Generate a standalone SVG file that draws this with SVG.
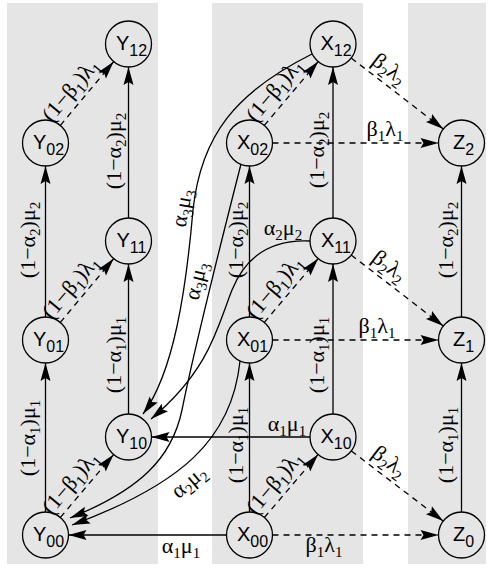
<svg xmlns="http://www.w3.org/2000/svg" width="489" height="569" viewBox="0 0 489 569">
<defs>
<style>
.bg{fill:#e5e5e5}
.n circle{fill:none;stroke:#000;stroke-width:1.3}
.n text{font-family:"Liberation Sans",Arial,sans-serif;font-size:20px;fill:#000}
.n .s{font-size:16px}
.e{fill:none;stroke:#000;stroke-width:1.3;marker-end:url(#ah)}
.d{stroke-dasharray:6 5}
.l{font-family:"Liberation Serif","Times New Roman",serif;font-size:22px;fill:#000}
.l .s{font-size:15px}
</style>
<marker id="ah" markerUnits="userSpaceOnUse" viewBox="-19 -6 20 12" refX="0" refY="0" markerWidth="20" markerHeight="12" orient="auto">
<path d="M0,0 L-18,-5 L-15,0 L-18,5 Z" fill="#000"/>
</marker>
</defs>

<g id="bands">
<rect class="bg" x="7" y="3" width="151" height="561"/>
<rect class="bg" x="212" y="3" width="151" height="561"/>
<rect class="bg" x="408" y="3" width="78" height="561"/>
</g>

<g id="connectors">
<line class="e" x1="45.5" y1="512" x2="45.5" y2="363"/>
<line class="e" x1="45.5" y1="317" x2="45.5" y2="166"/>
<line class="e" x1="128.5" y1="414" x2="128.5" y2="264"/>
<line class="e" x1="128.5" y1="218" x2="128.5" y2="67"/>
<line class="e" x1="249.5" y1="512" x2="249.5" y2="363"/>
<line class="e" x1="249.5" y1="317" x2="249.5" y2="166"/>
<line class="e" x1="333" y1="414" x2="333" y2="264"/>
<line class="e" x1="333" y1="218" x2="333" y2="67"/>
<line class="e" x1="461.5" y1="512" x2="461.5" y2="363"/>
<line class="e" x1="461.5" y1="317" x2="461.5" y2="166"/>
<line class="e d" x1="60.4" y1="517.4" x2="113.6" y2="454.6"/>
<line class="e d" x1="60.3" y1="322.4" x2="113.7" y2="258.6"/>
<line class="e d" x1="60.3" y1="125.4" x2="113.7" y2="61.6"/>
<line class="e d" x1="264.4" y1="517.5" x2="318.1" y2="454.5"/>
<line class="e d" x1="264.3" y1="322.4" x2="318.2" y2="258.6"/>
<line class="e d" x1="264.3" y1="125.4" x2="318.2" y2="61.6"/>
<line class="e d" x1="272.5" y1="535" x2="438.5" y2="535"/>
<line class="e d" x1="272.5" y1="340" x2="438.5" y2="340"/>
<line class="e d" x1="272.5" y1="143" x2="438.5" y2="143"/>
<line class="e d" x1="351.3" y1="450.9" x2="443.2" y2="521.1"/>
<line class="e d" x1="351.2" y1="255" x2="443.3" y2="326"/>
<line class="e d" x1="351.2" y1="58" x2="443.3" y2="129"/>
<line class="e" x1="310" y1="437" x2="151.5" y2="437"/>
<line class="e" x1="226.5" y1="535" x2="68.5" y2="535"/>
<path class="e" d="M312,54 C236,92 201,135 193,210 C186,290 174,372 143,414"/>
<path class="e" d="M241,164 C228,215 195,345 182,410 C172,458 140,490 70,518"/>
<path class="e" d="M310,241 C270,239 245,258 232,290 C218,325 210,370 151,419"/>
<path class="e" d="M240,361 C232,440 180,485 72,525"/>

<g id="labels" class="l">
<text transform="translate(34.5,438) rotate(-90)" text-anchor="middle">(1−α<tspan class="s" dy="5">1</tspan><tspan dy="-5">)μ</tspan><tspan class="s" dy="5">1</tspan></text>
<text transform="translate(34.5,240) rotate(-90)" text-anchor="middle">(1−α<tspan class="s" dy="5">2</tspan><tspan dy="-5">)μ</tspan><tspan class="s" dy="5">2</tspan></text>
<text transform="translate(120.5,355) rotate(-90)" text-anchor="middle">(1−α<tspan class="s" dy="5">1</tspan><tspan dy="-5">)μ</tspan><tspan class="s" dy="5">1</tspan></text>
<text transform="translate(120.5,151) rotate(-90)" text-anchor="middle">(1−α<tspan class="s" dy="5">2</tspan><tspan dy="-5">)μ</tspan><tspan class="s" dy="5">2</tspan></text>
<text transform="translate(242.5,445) rotate(-90)" text-anchor="middle">(1−α<tspan class="s" dy="5">1</tspan><tspan dy="-5">)μ</tspan><tspan class="s" dy="5">1</tspan></text>
<text transform="translate(242.5,240) rotate(-90)" text-anchor="middle">(1−α<tspan class="s" dy="5">2</tspan><tspan dy="-5">)μ</tspan><tspan class="s" dy="5">2</tspan></text>
<text transform="translate(323.5,355) rotate(-90)" text-anchor="middle">(1−α<tspan class="s" dy="5">1</tspan><tspan dy="-5">)μ</tspan><tspan class="s" dy="5">1</tspan></text>
<text transform="translate(323.5,150) rotate(-90)" text-anchor="middle">(1−α<tspan class="s" dy="5">2</tspan><tspan dy="-5">)μ</tspan><tspan class="s" dy="5">2</tspan></text>
<text transform="translate(452.5,445) rotate(-90)" text-anchor="middle">(1−α<tspan class="s" dy="5">1</tspan><tspan dy="-5">)μ</tspan><tspan class="s" dy="5">1</tspan></text>
<text transform="translate(452.5,240) rotate(-90)" text-anchor="middle">(1−α<tspan class="s" dy="5">2</tspan><tspan dy="-5">)μ</tspan><tspan class="s" dy="5">2</tspan></text>
<text transform="translate(87,486) rotate(-50)" x="-8" y="-8" text-anchor="middle">(1−β<tspan class="s" dy="5">1</tspan><tspan dy="-5">)λ</tspan><tspan class="s" dy="5">1</tspan></text>
<text transform="translate(87,290.5) rotate(-50)" x="-8" y="-8" text-anchor="middle">(1−β<tspan class="s" dy="5">1</tspan><tspan dy="-5">)λ</tspan><tspan class="s" dy="5">1</tspan></text>
<text transform="translate(87,93.5) rotate(-50)" x="-8" y="-8" text-anchor="middle">(1−β<tspan class="s" dy="5">1</tspan><tspan dy="-5">)λ</tspan><tspan class="s" dy="5">1</tspan></text>
<text transform="translate(291,486) rotate(-50)" x="-8" y="-8" text-anchor="middle">(1−β<tspan class="s" dy="5">1</tspan><tspan dy="-5">)λ</tspan><tspan class="s" dy="5">1</tspan></text>
<text transform="translate(291,290.5) rotate(-50)" x="-8" y="-8" text-anchor="middle">(1−β<tspan class="s" dy="5">1</tspan><tspan dy="-5">)λ</tspan><tspan class="s" dy="5">1</tspan></text>
<text transform="translate(291,93.5) rotate(-50)" x="-8" y="-8" text-anchor="middle">(1−β<tspan class="s" dy="5">1</tspan><tspan dy="-5">)λ</tspan><tspan class="s" dy="5">1</tspan></text>
<text transform="translate(397,486) rotate(37.5)" x="-21" y="-8" text-anchor="middle">β<tspan class="s" dy="5">2</tspan><tspan dy="-5">λ</tspan><tspan class="s" dy="5">2</tspan></text>
<text transform="translate(397,290.5) rotate(37.5)" x="-21" y="-8" text-anchor="middle">β<tspan class="s" dy="5">2</tspan><tspan dy="-5">λ</tspan><tspan class="s" dy="5">2</tspan></text>
<text transform="translate(397,93.5) rotate(37.5)" x="-21" y="-8" text-anchor="middle">β<tspan class="s" dy="5">2</tspan><tspan dy="-5">λ</tspan><tspan class="s" dy="5">2</tspan></text>
<text x="324" y="552" text-anchor="middle">β<tspan class="s" dy="5">1</tspan><tspan dy="-5">λ</tspan><tspan class="s" dy="5">1</tspan></text>
<text x="377" y="333" text-anchor="middle">β<tspan class="s" dy="5">1</tspan><tspan dy="-5">λ</tspan><tspan class="s" dy="5">1</tspan></text>
<text x="385" y="136" text-anchor="middle">β<tspan class="s" dy="5">1</tspan><tspan dy="-5">λ</tspan><tspan class="s" dy="5">1</tspan></text>
<text x="287" y="431" text-anchor="middle">α<tspan class="s" dy="5">1</tspan><tspan dy="-5">μ</tspan><tspan class="s" dy="5">1</tspan></text>
<text x="181" y="553" text-anchor="middle">α<tspan class="s" dy="5">1</tspan><tspan dy="-5">μ</tspan><tspan class="s" dy="5">1</tspan></text>
<text x="283" y="235" text-anchor="middle">α<tspan class="s" dy="5">2</tspan><tspan dy="-5">μ</tspan><tspan class="s" dy="5">2</tspan></text>
<text transform="translate(190,483) rotate(-40)" y="5" text-anchor="middle">α<tspan class="s" dy="5">2</tspan><tspan dy="-5">μ</tspan><tspan class="s" dy="5">2</tspan></text>
<text transform="translate(183,208) rotate(-80)" y="6" text-anchor="middle">α<tspan class="s" dy="5">3</tspan><tspan dy="-5">μ</tspan><tspan class="s" dy="5">3</tspan></text>
<text transform="translate(197,281) rotate(-76)" y="6" text-anchor="middle">α<tspan class="s" dy="5">3</tspan><tspan dy="-5">μ</tspan><tspan class="s" dy="5">3</tspan></text>
</g>
</g>

<g id="Y00" class="n"><circle cx="45.5" cy="535" r="23"/><text x="48.5" y="541" text-anchor="middle">Y<tspan class="s" dy="6">00</tspan></text></g>
<g id="Y01" class="n"><circle cx="45.5" cy="340" r="23"/><text x="48.5" y="346" text-anchor="middle">Y<tspan class="s" dy="6">01</tspan></text></g>
<g id="Y02" class="n"><circle cx="45.5" cy="143" r="23"/><text x="48.5" y="149" text-anchor="middle">Y<tspan class="s" dy="6">02</tspan></text></g>
<g id="Y10" class="n"><circle cx="128.5" cy="437" r="23"/><text x="131.5" y="443" text-anchor="middle">Y<tspan class="s" dy="6">10</tspan></text></g>
<g id="Y11" class="n"><circle cx="128.5" cy="241" r="23"/><text x="131.5" y="247" text-anchor="middle">Y<tspan class="s" dy="6">11</tspan></text></g>
<g id="Y12" class="n"><circle cx="128.5" cy="44" r="23"/><text x="131.5" y="50" text-anchor="middle">Y<tspan class="s" dy="6">12</tspan></text></g>
<g id="X00" class="n"><circle cx="249.5" cy="535" r="23"/><text x="252.5" y="541" text-anchor="middle">X<tspan class="s" dy="6">00</tspan></text></g>
<g id="X01" class="n"><circle cx="249.5" cy="340" r="23"/><text x="252.5" y="346" text-anchor="middle">X<tspan class="s" dy="6">01</tspan></text></g>
<g id="X02" class="n"><circle cx="249.5" cy="143" r="23"/><text x="252.5" y="149" text-anchor="middle">X<tspan class="s" dy="6">02</tspan></text></g>
<g id="X10" class="n"><circle cx="333" cy="437" r="23"/><text x="336" y="443" text-anchor="middle">X<tspan class="s" dy="6">10</tspan></text></g>
<g id="X11" class="n"><circle cx="333" cy="241" r="23"/><text x="336" y="247" text-anchor="middle">X<tspan class="s" dy="6">11</tspan></text></g>
<g id="X12" class="n"><circle cx="333" cy="44" r="23"/><text x="336" y="50" text-anchor="middle">X<tspan class="s" dy="6">12</tspan></text></g>
<g id="Z0" class="n"><circle cx="461.5" cy="535" r="23"/><text x="463.5" y="541" text-anchor="middle">Z<tspan class="s" dy="6">0</tspan></text></g>
<g id="Z1" class="n"><circle cx="461.5" cy="340" r="23"/><text x="463.5" y="346" text-anchor="middle">Z<tspan class="s" dy="6">1</tspan></text></g>
<g id="Z2" class="n"><circle cx="461.5" cy="143" r="23"/><text x="463.5" y="149" text-anchor="middle">Z<tspan class="s" dy="6">2</tspan></text></g>
</svg>
